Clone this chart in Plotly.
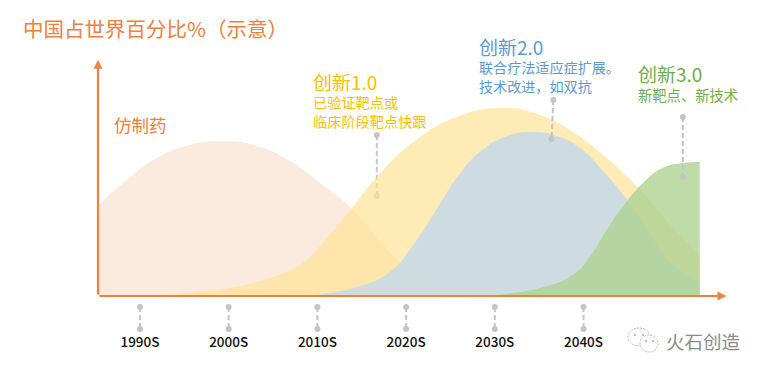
import plotly.graph_objects as go

W, H = 765, 374

# Data: share (%) by year
generic_x = [1985.3, 1988.1, 1991.9, 1995.6, 1999.4, 2003.2, 2006.9, 2010.6, 2013.7, 2016.3, 2019.1, 2021.9, 2027.5, 2031.4]
generic_y = [45.5, 56.5, 69, 75.5, 77.5, 75, 67.5, 55.5, 44.5, 31.5, 17.5, 7, 1.5, 0]
innov1_x = [1991.1, 1999.4, 2003.2, 2006.9, 2008.8, 2010.6, 2013.7, 2016.7, 2020.4, 2025.7, 2030.9, 2035.1, 2038.8, 2042.6, 2046.4, 2050.1, 2053.1]
innov1_y = [0, 3.5, 7, 13, 18, 26.5, 43, 59.5, 75.5, 89.5, 94, 90.5, 82, 69, 53, 34, 20.5]
innov2_x = [2008.8, 2014.5, 2018.2, 2020.4, 2023.8, 2025.7, 2028.3, 2031.4, 2034.3, 2037.0, 2039.6, 2042.6, 2045.2, 2047.5, 2049.8, 2053.1]
innov2_y = [0, 4.5, 12, 23, 46, 59, 72, 80, 82, 80, 74, 60.5, 46.5, 31, 17, 7]
innov3_x = [2029.0, 2035.1, 2038.8, 2040.7, 2042.6, 2044.4, 2046.7, 2048.9, 2051.2, 2053.1]
innov3_y = [0, 4, 10.5, 19.5, 33, 44.5, 56.5, 64, 66.5, 67]

decades = [1990, 2000, 2010, 2020, 2030, 2040]
decade_labels = ["1990S", "2000S", "2010S", "2020S", "2030S", "2040S"]

# Axis ranges so the plot area spans the whole page
x_lo, x_hi = 1974.22, 2060.46
y_lo, y_hi = -39, 148


def xp(px):
    return px / W


def yp(py):
    return 1 - py / H


ORANGE = "#F0803C"
GRAY = "#C4C4C4"

fig = go.Figure()


def area(x, y, color, name):
    fig.add_trace(go.Scatter(x=x, y=y, mode="lines", fill="tozeroy", fillcolor=color,
                             line=dict(width=0, shape="spline", smoothing=1.3),
                             name=name, hoverinfo="skip"))


def pin(x, y):
    fig.add_trace(go.Scatter(x=x, y=y, mode="lines+markers",
                             line=dict(color=GRAY, width=2, dash="5px,3px"),
                             marker=dict(size=6, color=GRAY),
                             hoverinfo="skip"))


area(generic_x, generic_y, "#FBEBDF", "仿制药")
pin([2016.7, 2016.7], [80.5, 50])
area(innov1_x, innov1_y, "rgba(255,226,150,0.7)", "创新1.0")
area(innov2_x, innov2_y, "rgba(190,215,240,0.75)", "创新2.0")
area(innov3_x, innov3_y, "rgba(174,210,146,0.8)", "创新3.0")
pin([2036.6, 2036.4], [98, 78.5])
pin([2051.2, 2051.2], [89.5, 59.5])
for d in decades:
    pin([d, d], [-5.5, -16.5])

FONT = "Noto Sans CJK SC"


def label(px, py, text, size, color, anchor="middle"):
    fig.add_annotation(xref="paper", yref="paper", x=xp(px), y=yp(py), text=text, align="left",
                       showarrow=False, xanchor="left", yanchor=anchor,
                       borderpad=0, borderwidth=0,
                       font=dict(size=size, color=color, family=FONT))


def head(text):
    return f'<span style="font-size:19px">{text}</span>'


label(23, 28, "中国占世界百分比%（示意）", 20.5, ORANGE)
label(114, 124, "仿制药", 17.5, ORANGE)
label(313, 100, head("创新1.0") + "<br>已验证靶点或<br>临床阶段靶点快跟", 14.2, "#FFC000")
label(479, 64, head("创新2.0") + "<br>联合疗法适应症扩展。<br>技术改进，如双抗", 14.1, "#5B9BD5")
label(638, 82, head("创新3.0") + "<br>新靶点、新技术", 14.3, "#70AD47")
label(666, 341, "火石创造", 18.5, "#8C8C8C")

# Axes with arrow heads
fig.add_annotation(x=1985.27, y=118, ax=1985.27, ay=0, xref="x", yref="y", axref="x", ayref="y",
                   text="", showarrow=True, arrowhead=2, arrowsize=0.8, arrowwidth=2.2, arrowcolor=ORANGE)
fig.add_annotation(x=2056.1, y=0, ax=1985.27, ay=0, xref="x", yref="y", axref="x", ayref="y",
                   text="", showarrow=True, arrowhead=2, arrowsize=0.8, arrowwidth=2.2, arrowcolor=ORANGE)

# WeChat-style watermark icon
icon = dict(xref="paper", yref="paper", type="circle", line=dict(color="#BDBDBD", width=1, dash="2px,1px"), fillcolor="white")
dot = dict(xref="paper", yref="paper", type="circle", line=dict(width=0), fillcolor="#A8A8A8")
fig.add_shape(x0=xp(628), x1=xp(650), y0=yp(346), y1=yp(328), **icon)
fig.add_shape(x0=xp(640), x1=xp(658), y0=yp(352), y1=yp(335), **icon)
for cx, cy in ((635, 335), (643, 335), (646, 341), (653, 341)):
    fig.add_shape(x0=xp(cx - 1), x1=xp(cx + 1), y0=yp(cy + 1), y1=yp(cy - 1), **dot)

fig.update_layout(
    width=W, height=H, autosize=False,
    margin=dict(l=0, r=0, t=0, b=0),
    paper_bgcolor="white", plot_bgcolor="white",
    showlegend=False,
    xaxis=dict(range=[x_lo, x_hi], domain=[0, 1], anchor="free", position=yp(332),
               tickmode="array", tickvals=decades, ticktext=decade_labels, ticks="",
               showgrid=False, zeroline=False, showline=False, ticklabelstandoff=0,
               tickfont=dict(size=13.5, color="#111111", family=FONT, weight=500)),
    yaxis=dict(range=[y_lo, y_hi], domain=[0, 1], visible=False, showgrid=False, zeroline=False),
)

fig.write_html("out.html", config={"displayModeBar": False}, post_script="document.body.style.margin='0';")
